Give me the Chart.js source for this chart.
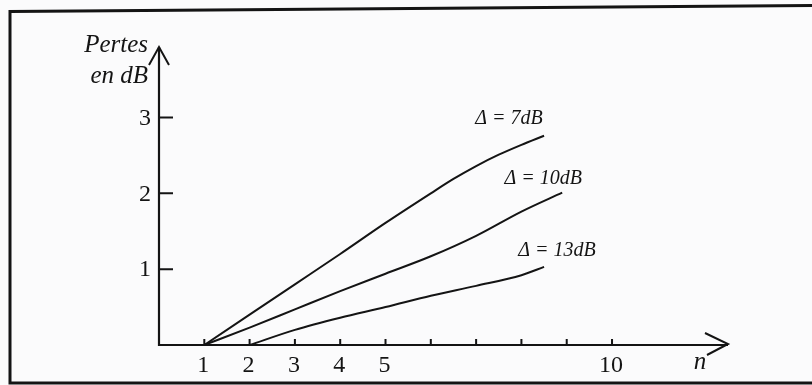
<!DOCTYPE html>
<html lang="fr">
<head>
<meta charset="utf-8">
<title>Pertes en dB</title>
<script src="https://cdn.jsdelivr.net/npm/chart.js@4/dist/chart.umd.min.js"></script>
<style>
  html, body { margin: 0; padding: 0; background: #fbfbfc; }
  canvas { display: block; }
</style>
</head>
<body>
<canvas id="pertes" width="812" height="385"></canvas>
<script>
// Pertes (dB) en fonction de n, pour trois valeurs de Δ
const nDelta7 = [1, 2, 3, 4, 5, 6, 6.5, 7, 7.5, 8, 8.5];
const pertesDelta7 = [0, 0.40, 0.80, 1.20, 1.61, 2.00, 2.19, 2.36, 2.51, 2.64, 2.76];

const nDelta10 = [1, 2, 3, 4, 5, 6, 7, 8, 8.9];
const pertesDelta10 = [0, 0.23, 0.47, 0.71, 0.94, 1.17, 1.44, 1.76, 2.01];

const nDelta13 = [2, 3, 4, 5, 6, 7, 8, 8.5];
const pertesDelta13 = [0, 0.20, 0.36, 0.50, 0.65, 0.78, 0.92, 1.03];

const seriesLabels = ["Δ = 7dB", "Δ = 10dB", "Δ = 13dB"];

const xTickMarks = [1, 2, 3, 4, 5, 6, 7, 8, 9, 10];
const xTickLabels = [1, 2, 3, 4, 5, 10];
const yTickLabels = [1, 2, 3];

const ink = "#141414";
const serif = '"Liberation Serif", "DejaVu Serif", serif';

const toPoints = (xs, ys) => xs.map((v, i) => ({ x: v, y: ys[i] }));

// position des étiquettes Δ par rapport à la fin de chaque courbe
const labelOffsets = [
  { dx: -35, dy: -12 },
  { dx: -19, dy: -9 },
  { dx: 13, dy: -11 },
];

const schema = {
  id: "schema",
  beforeDraw(chart) {
    const { ctx, width, height } = chart;
    ctx.save();
    ctx.fillStyle = "#fbfbfc";
    ctx.fillRect(0, 0, width, height);
    ctx.restore();
  },
  afterDatasetsDraw(chart) {
    const { ctx } = chart;
    const sx = chart.scales.x;
    const sy = chart.scales.y;
    const x0 = sx.getPixelForValue(0);
    const y0 = sy.getPixelForValue(0);
    const xEnd = sx.getPixelForValue(sx.max);
    const yEnd = sy.getPixelForValue(sy.max);

    ctx.save();
    ctx.strokeStyle = ink;
    ctx.fillStyle = ink;

    // cadre
    ctx.lineWidth = 3;
    ctx.beginPath();
    ctx.moveTo(10, 384);
    ctx.lineTo(10, 11.5);
    ctx.lineTo(812, 5.5);
    ctx.moveTo(8.5, 383);
    ctx.lineTo(812, 383);
    ctx.stroke();

    // axes
    ctx.lineWidth = 2.2;
    ctx.beginPath();
    ctx.moveTo(x0, yEnd);
    ctx.lineTo(x0, y0);
    ctx.lineTo(xEnd, y0);
    ctx.stroke();

    // flèches
    ctx.lineWidth = 2;
    ctx.beginPath();
    ctx.moveTo(x0 - 10, yEnd + 18);
    ctx.lineTo(x0, yEnd);
    ctx.lineTo(x0 + 10, yEnd + 18);
    ctx.moveTo(xEnd - 23, y0 - 12);
    ctx.lineTo(xEnd, y0 - 1);
    ctx.lineTo(xEnd - 21, y0 + 10);
    ctx.stroke();

    // graduations
    ctx.lineWidth = 2;
    ctx.beginPath();
    xTickMarks.forEach((v) => {
      const px = sx.getPixelForValue(v);
      ctx.moveTo(px, y0);
      ctx.lineTo(px, y0 - 6);
    });
    yTickLabels.forEach((v) => {
      const py = sy.getPixelForValue(v);
      ctx.moveTo(x0, py);
      ctx.lineTo(x0 + 14, py);
    });
    ctx.stroke();

    // libellés des graduations
    ctx.font = `24px ${serif}`;
    ctx.textAlign = "center";
    ctx.textBaseline = "alphabetic";
    xTickLabels.forEach((v) => {
      ctx.fillText(String(v), sx.getPixelForValue(v) - 1, y0 + 27);
    });
    ctx.textAlign = "right";
    ctx.textBaseline = "middle";
    yTickLabels.forEach((v) => {
      ctx.fillText(String(v), x0 - 8, sy.getPixelForValue(v) + 1);
    });

    // titres des axes
    ctx.font = `italic 25px ${serif}`;
    ctx.textAlign = "right";
    ctx.textBaseline = "alphabetic";
    ctx.fillText("Pertes", x0 - 11, 52);
    ctx.fillText("en dB", x0 - 11, 83);
    ctx.textAlign = "center";
    ctx.fillText("n", xEnd - 28, y0 + 24);

    // étiquettes des courbes
    ctx.font = `italic 20px ${serif}`;
    chart.data.datasets.forEach((ds, i) => {
      const last = ds.data[ds.data.length - 1];
      const px = sx.getPixelForValue(last.x) + labelOffsets[i].dx;
      const py = sy.getPixelForValue(last.y) + labelOffsets[i].dy;
      ctx.fillText(seriesLabels[i], px, py);
    });

    ctx.restore();
  },
};

const curve = (xs, ys, label) => ({
  label,
  data: toPoints(xs, ys),
  borderColor: ink,
  borderWidth: 2,
  pointRadius: 0,
  fill: false,
  cubicInterpolationMode: "monotone",
});

new Chart(document.getElementById("pertes"), {
  type: "line",
  data: {
    datasets: [
      curve(nDelta7, pertesDelta7, seriesLabels[0]),
      curve(nDelta10, pertesDelta10, seriesLabels[1]),
      curve(nDelta13, pertesDelta13, seriesLabels[2]),
    ],
  },
  options: {
    responsive: false,
    animation: false,
    devicePixelRatio: 1,
    layout: { padding: { left: 159, right: 84, top: 47, bottom: 40 } },
    scales: {
      x: { type: "linear", display: false, min: 0, max: 12.56 },
      y: { type: "linear", display: false, min: 0, max: 3.93 },
    },
    plugins: {
      legend: { display: false },
      tooltip: { enabled: false },
    },
  },
  plugins: [schema],
});
</script>
</body>
</html>
